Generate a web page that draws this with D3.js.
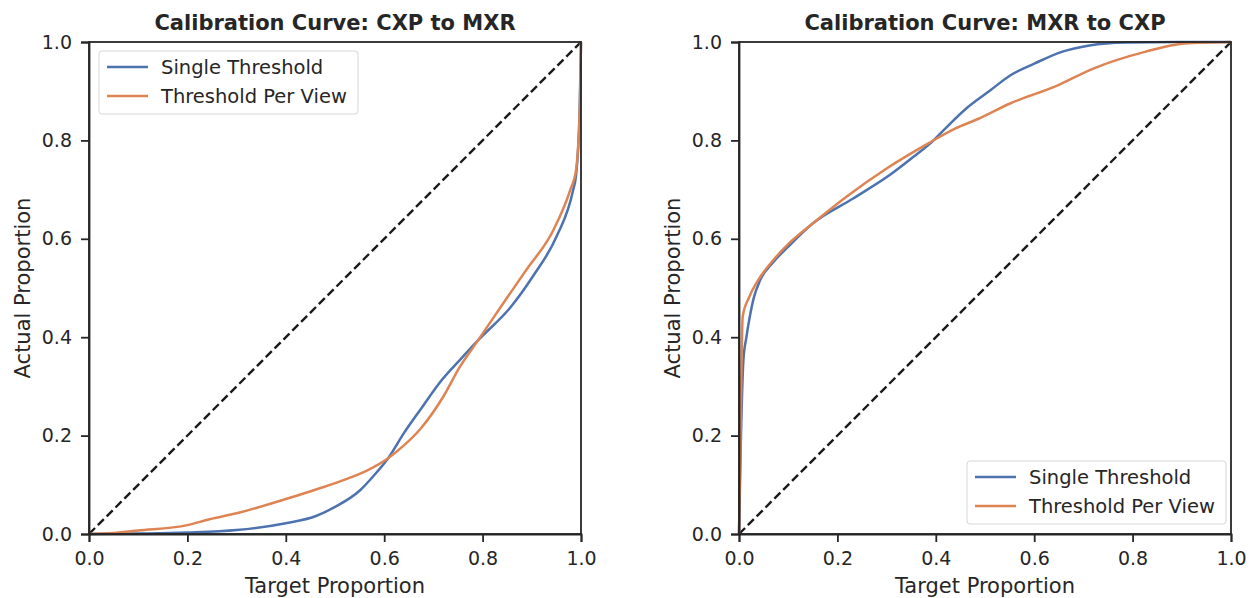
<!DOCTYPE html>
<html>
<head>
<meta charset="utf-8">
<script src="https://cdn.jsdelivr.net/npm/d3@7"></script>
<style>
body { margin: 0; background: #fff; }
svg text { font-family: "DejaVu Sans", sans-serif; fill: #262626; }
.axis path, .axis line { stroke: #262626; stroke-width: 1.8; }
</style>
</head>
<body>
<div id="chart"></div>
<script>
var width = 1251, height = 598;

var tickValues = [0, 0.2, 0.4, 0.6, 0.8, 1.0];
var seriesNames = ["Single Threshold", "Threshold Per View"];
var colors = ["#4C72B0", "#DD8452"];

// CXP to MXR
var leftSingleX = [0, 0.1, 0.2, 0.3, 0.4, 0.46, 0.5, 0.551, 0.58, 0.608, 0.64, 0.673, 0.717, 0.754, 0.791, 0.856, 0.903, 0.95, 0.984, 0.99, 0.997, 1.0];
var leftSingleY = [0, 0.001, 0.003, 0.008, 0.022, 0.036, 0.055, 0.089, 0.12, 0.154, 0.205, 0.252, 0.313, 0.354, 0.394, 0.46, 0.525, 0.604, 0.699, 0.73, 0.85, 1.0];
var leftPerViewX = [0, 0.05, 0.1, 0.2, 0.245, 0.3, 0.4, 0.46, 0.527, 0.567, 0.608, 0.64, 0.673, 0.72, 0.754, 0.791, 0.842, 0.889, 0.944, 0.978, 0.99, 0.998, 1.0];
var leftPerViewY = [0, 0.002, 0.007, 0.018, 0.03, 0.042, 0.071, 0.09, 0.113, 0.13, 0.154, 0.18, 0.213, 0.279, 0.34, 0.394, 0.469, 0.537, 0.618, 0.699, 0.74, 0.88, 1.0];

// MXR to CXP
var rightSingleX = [0, 0.004, 0.009, 0.015, 0.022, 0.03, 0.043, 0.07, 0.1, 0.151, 0.232, 0.307, 0.359, 0.39, 0.415, 0.463, 0.511, 0.551, 0.6, 0.656, 0.712, 0.785, 0.9, 1.0];
var rightSingleY = [0, 0.2, 0.354, 0.40, 0.442, 0.48, 0.516, 0.553, 0.584, 0.632, 0.682, 0.73, 0.77, 0.795, 0.82, 0.866, 0.902, 0.932, 0.956, 0.98, 0.993, 0.999, 1.0, 1.0];
var rightPerViewX = [0, 0.003, 0.0075, 0.02, 0.039, 0.07, 0.101, 0.151, 0.219, 0.30, 0.383, 0.439, 0.487, 0.551, 0.648, 0.72, 0.825, 0.905, 1.0];
var rightPerViewY = [0, 0.2, 0.442, 0.48, 0.516, 0.557, 0.59, 0.632, 0.686, 0.743, 0.793, 0.824, 0.844, 0.875, 0.912, 0.946, 0.98, 0.997, 1.0];

var panels = [
  { title: "Calibration Curve: CXP to MXR", left: 89, xs: [leftSingleX, leftPerViewX], ys: [leftSingleY, leftPerViewY], legend: "top" },
  { title: "Calibration Curve: MXR to CXP", left: 739, xs: [rightSingleX, rightPerViewX], ys: [rightSingleY, rightPerViewY], legend: "bottom" }
];

var plotTop = 42, size = 492;

var svg = d3.select("#chart").append("svg")
  .attr("width", width).attr("height", height);

panels.forEach(function(p) {
  var x = d3.scaleLinear().domain([0, 1]).range([p.left, p.left + size]);
  var y = d3.scaleLinear().domain([0, 1]).range([plotTop + size, plotTop]);
  var g = svg.append("g");

  // diagonal
  g.append("line")
    .attr("x1", x(0)).attr("y1", y(0)).attr("x2", x(1)).attr("y2", y(1))
    .attr("stroke", "#1a1a1a").attr("stroke-width", 2.4)
    .attr("stroke-dasharray", "8.5,4");

  var line = d3.line().curve(d3.curveMonotoneX).x(d => x(d[0])).y(d => y(d[1]));
  p.xs.forEach(function(xs, i) {
    g.append("path")
      .datum(xs.map((v, j) => [v, p.ys[i][j]]))
      .attr("fill", "none").attr("stroke", colors[i]).attr("stroke-width", 2.5)
      .attr("stroke-linejoin", "round")
      .attr("d", line);
  });

  // frame
  g.append("rect")
    .attr("x", x(0)).attr("y", y(1)).attr("width", size).attr("height", size)
    .attr("fill", "none").attr("stroke", "#262626").attr("stroke-width", 1.8);

  g.append("g").attr("class", "axis")
    .attr("transform", "translate(0," + (plotTop + size) + ")")
    .call(d3.axisBottom(x).tickValues(tickValues).tickFormat(d3.format(".1f")).tickSize(8).tickPadding(10))
    .call(a => a.selectAll("text").style("font-size", "19px").style("font-family", "DejaVu Sans"));

  g.append("g").attr("class", "axis")
    .attr("transform", "translate(" + p.left + ",0)")
    .call(d3.axisLeft(y).tickValues(tickValues).tickFormat(d3.format(".1f")).tickSize(8).tickPadding(9))
    .call(a => a.selectAll("text").style("font-size", "19px").style("font-family", "DejaVu Sans"));

  g.append("text")
    .attr("x", p.left + size / 2).attr("y", 30)
    .attr("text-anchor", "middle").style("font-size", "21px").style("font-weight", "bold")
    .text(p.title);

  g.append("text")
    .attr("x", p.left + size / 2).attr("y", 593)
    .attr("text-anchor", "middle").style("font-size", "21px")
    .text("Target Proportion");

  g.append("text")
    .attr("transform", "translate(" + (p.left - 59) + "," + (plotTop + size / 2) + ") rotate(-90)")
    .attr("text-anchor", "middle").style("font-size", "21px")
    .text("Actual Proportion");

  // legend
  var lx = p.legend === "top" ? p.left + 10 : p.left + 228;
  var ly = p.legend === "top" ? plotTop + 9 : plotTop + 419;
  var lg = g.append("g").attr("transform", "translate(" + lx + "," + ly + ")");
  lg.append("rect")
    .attr("width", 259).attr("height", 63).attr("rx", 3)
    .attr("fill", "#fff").attr("fill-opacity", 0.8)
    .attr("stroke", "#d6d6d6").attr("stroke-width", 1);
  seriesNames.forEach(function(n, i) {
    var yy = 16 + i * 29;
    lg.append("line").attr("x1", 8).attr("x2", 49).attr("y1", yy).attr("y2", yy)
      .attr("stroke", colors[i]).attr("stroke-width", 2.5);
    lg.append("text").attr("x", 62).attr("y", yy + 7).style("font-size", "19.5px").text(n);
  });
});
</script>
</body>
</html>
